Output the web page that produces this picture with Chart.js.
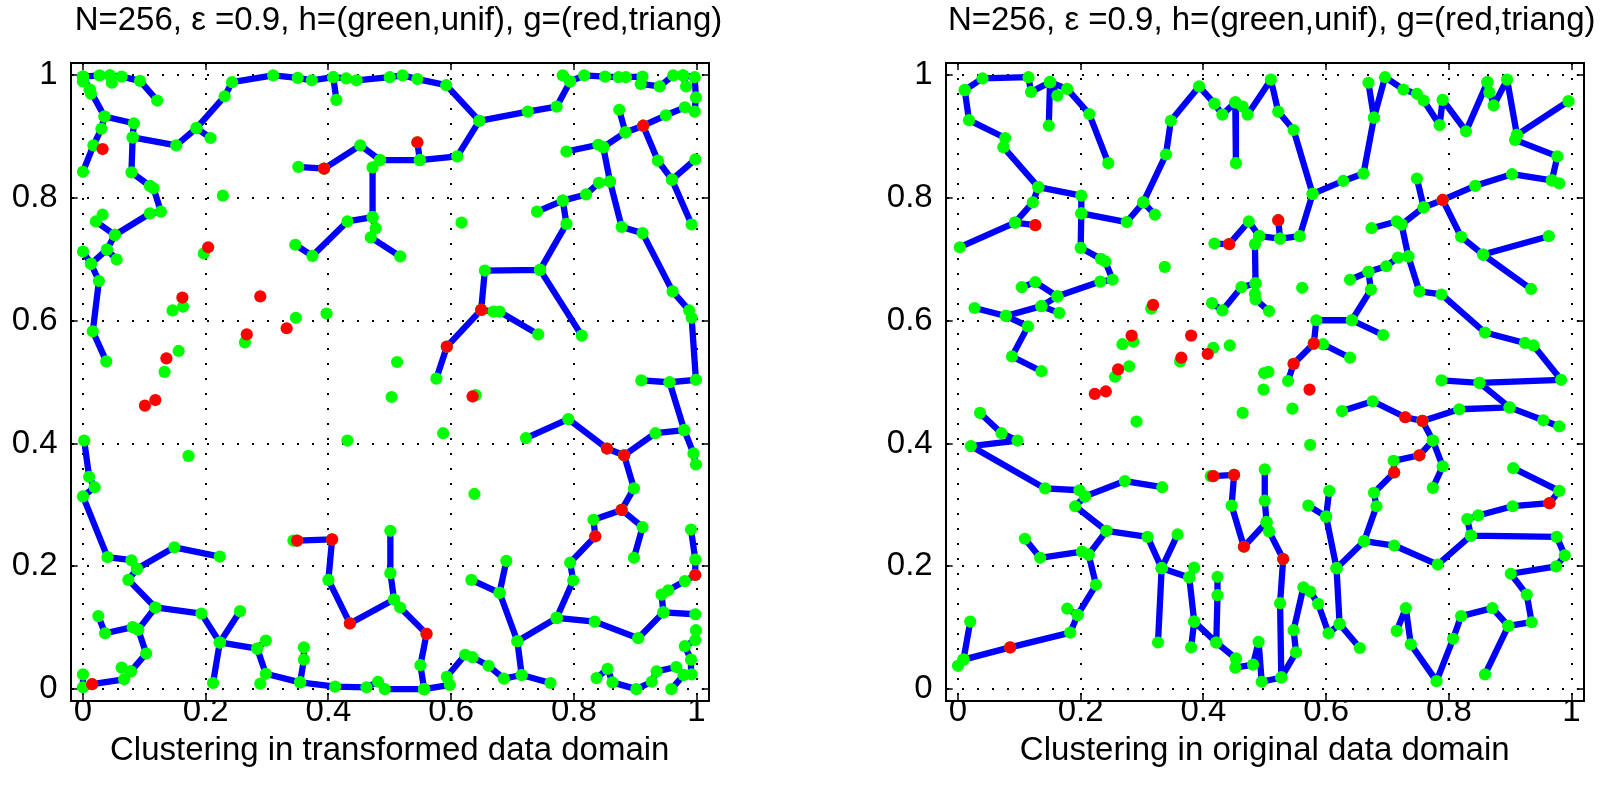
<!DOCTYPE html>
<html>
<head>
<meta charset="utf-8">
<script src="https://cdn.jsdelivr.net/npm/chart.js@4/dist/chart.umd.min.js"></script>
<style>
  html, body { margin: 0; padding: 0; background: #fff; }
  body { width: 1610px; height: 792px; position: relative; overflow: hidden; }
  .panel { position: absolute; top: 0; width: 800px; height: 792px; }
  #left { left: 0; }
  #right { left: 870px; }
</style>
</head>
<body>
<div class="panel" id="left"><canvas id="transChart" width="800" height="792"></canvas></div>
<div class="panel" id="right"><canvas id="origChart" width="800" height="792"></canvas></div>
<script>
const titleText = 'N=256, \u03b5 =0.9, h=(green,unif), g=(red,triang)';
const transLabel = 'Clustering in transformed data domain';
const origLabel = 'Clustering in original data domain';
const tickValues = [0, 0.2, 0.4, 0.6, 0.8, 1];

// spanning-tree edges, transformed domain (each path is a chain of nodes)
const transPaths = [
  [[0.000,0.998],[0.027,1.000],[0.044,1.000],[0.063,0.998],[0.093,0.991],[0.121,0.959]],
  [[0.044,1.000],[0.047,0.988]],
  [[0.000,0.998],[0.000,0.990]],
  [[0.000,0.998],[0.011,0.977],[0.035,0.933],[0.083,0.922],[0.081,0.899],[0.152,0.886],[0.185,0.914],[0.231,0.966],[0.243,0.989],[0.310,1.000],[0.350,0.996],[0.373,0.992],[0.408,0.997],[0.429,0.995],[0.446,0.992],[0.500,0.997],[0.521,1.000],[0.545,0.994],[0.592,0.984],[0.646,0.926],[0.725,0.941],[0.772,0.949],[0.794,0.990],[0.782,1.000]],
  [[0.011,0.977],[0.013,0.970]],
  [[0.185,0.914],[0.208,0.898]],
  [[0.408,0.997],[0.413,0.960]],
  [[0.035,0.933],[0.030,0.913],[0.017,0.886],[0.000,0.843]],
  [[0.081,0.899],[0.079,0.842],[0.109,0.820],[0.115,0.816],[0.127,0.778],[0.109,0.775],[0.052,0.740],[0.039,0.716],[0.013,0.693],[0.026,0.665],[0.016,0.583],[0.038,0.534]],
  [[0.052,0.740],[0.021,0.762],[0.032,0.773]],
  [[0.039,0.716],[0.055,0.700]],
  [[0.013,0.693],[0.000,0.713]],
  [[0.351,0.851],[0.393,0.848],[0.452,0.886],[0.484,0.862],[0.549,0.862],[0.610,0.868],[0.646,0.926]],
  [[0.549,0.862],[0.545,0.891]],
  [[0.484,0.862],[0.472,0.850],[0.472,0.769],[0.431,0.762],[0.374,0.706],[0.346,0.724]],
  [[0.472,0.769],[0.477,0.751],[0.469,0.736],[0.517,0.705]],
  [[0.794,0.990],[0.817,1.000],[0.851,0.998],[0.873,0.997],[0.885,0.997],[0.912,0.998],[0.909,0.986],[0.940,0.982],[0.962,1.000],[0.978,1.000],[0.997,0.997],[0.999,0.964],[0.997,0.941],[0.981,0.948],[0.950,0.935],[0.913,0.918],[0.884,0.907],[0.848,0.883],[0.840,0.887],[0.788,0.876]],
  [[0.978,1.000],[0.983,0.982]],
  [[0.884,0.907],[0.874,0.944]],
  [[0.913,0.918],[0.937,0.861],[0.960,0.830],[0.998,0.863]],
  [[0.960,0.830],[0.992,0.757]],
  [[0.848,0.883],[0.859,0.827],[0.878,0.753],[0.912,0.743],[0.961,0.648],[0.988,0.617],[0.992,0.605],[0.999,0.504],[0.956,0.500],[0.910,0.503]],
  [[0.740,0.778],[0.782,0.796],[0.820,0.806],[0.841,0.825],[0.859,0.827]],
  [[0.782,0.796],[0.788,0.758],[0.745,0.683],[0.655,0.682],[0.649,0.618],[0.593,0.558],[0.576,0.506]],
  [[0.649,0.618],[0.669,0.615],[0.679,0.615],[0.742,0.578]],
  [[0.745,0.683],[0.813,0.576]],
  [[0.002,0.405],[0.010,0.346],[0.019,0.329],[0.000,0.314],[0.040,0.215],[0.079,0.210],[0.088,0.196],[0.149,0.231],[0.223,0.216]],
  [[0.088,0.196],[0.074,0.178],[0.118,0.133],[0.193,0.123],[0.223,0.076],[0.256,0.127]],
  [[0.223,0.076],[0.212,0.010]],
  [[0.223,0.076],[0.284,0.066],[0.298,0.079]],
  [[0.284,0.066],[0.298,0.025],[0.354,0.011],[0.411,0.004],[0.462,0.003],[0.481,0.012],[0.492,0.000],[0.556,0.000]],
  [[0.354,0.011],[0.360,0.048],[0.360,0.068]],
  [[0.118,0.133],[0.090,0.097],[0.081,0.101],[0.036,0.091],[0.025,0.119]],
  [[0.090,0.097],[0.103,0.058],[0.078,0.029],[0.063,0.035]],
  [[0.078,0.029],[0.067,0.016],[0.015,0.008],[0.000,0.003],[0.000,0.024]],
  [[0.343,0.242],[0.349,0.242],[0.406,0.244],[0.400,0.178],[0.435,0.107],[0.507,0.146]],
  [[0.501,0.258],[0.501,0.189],[0.507,0.146],[0.517,0.133],[0.560,0.090],[0.550,0.039],[0.556,0.000]],
  [[0.556,0.000],[0.598,0.007],[0.593,0.020],[0.623,0.056],[0.635,0.052],[0.661,0.038],[0.686,0.017],[0.715,0.023],[0.762,0.010]],
  [[0.715,0.023],[0.708,0.078],[0.772,0.116]],
  [[0.708,0.078],[0.679,0.157],[0.633,0.178]],
  [[0.679,0.157],[0.690,0.209]],
  [[0.772,0.116],[0.799,0.177],[0.794,0.206],[0.835,0.249],[0.832,0.276],[0.878,0.292],[0.898,0.327],[0.882,0.381],[0.854,0.392],[0.791,0.440],[0.722,0.409]],
  [[0.882,0.381],[0.933,0.417],[0.980,0.422],[0.956,0.500]],
  [[0.980,0.422],[0.995,0.384],[0.999,0.366]],
  [[0.878,0.292],[0.912,0.264],[0.898,0.214]],
  [[0.772,0.116],[0.834,0.110],[0.905,0.083],[0.946,0.125],[0.943,0.154],[0.954,0.161],[0.981,0.176],[0.998,0.186],[0.998,0.211],[0.991,0.260]],
  [[0.946,0.125],[0.998,0.122]],
  [[0.837,0.018],[0.855,0.033],[0.863,0.011],[0.902,0.000],[0.927,0.012],[0.935,0.029],[0.967,0.036],[0.979,0.023],[0.992,0.024],[0.991,0.048],[0.981,0.070],[0.998,0.080],[0.999,0.096]],
  [[0.979,0.023],[0.959,0.000]]
];
const transLoose = [
  [0.228,0.804],[0.197,0.710],[0.146,0.617],[0.163,0.623],[0.347,0.605],[0.397,0.612],[0.264,0.565],
  [0.156,0.551],[0.133,0.517],[0.617,0.760],[0.512,0.533],[0.172,0.380],[0.431,0.405],[0.503,0.476],
  [0.289,0.009],[0.587,0.417],[0.638,0.318],[0.640,0.479]
];
const transRed = [
  [0.032,0.880],[0.204,0.720],[0.162,0.638],[0.289,0.640],[0.332,0.588],[0.267,0.578],[0.136,0.539],
  [0.393,0.848],[0.545,0.891],[0.913,0.918],[0.649,0.618],[0.593,0.558],[0.101,0.462],[0.118,0.471],
  [0.015,0.008],[0.349,0.242],[0.406,0.244],[0.435,0.107],[0.560,0.090],[0.835,0.249],[0.878,0.292],
  [0.882,0.381],[0.854,0.392],[0.998,0.186],[0.635,0.477]
];

// spanning-tree edges, original domain
const origPaths = [
  [[0.011,0.976],[0.040,0.995],[0.115,0.997],[0.119,0.973],[0.150,0.989],[0.178,0.978],[0.214,0.937],[0.245,0.857]],
  [[0.150,0.989],[0.148,0.918]],
  [[0.150,0.989],[0.162,0.967]],
  [[0.011,0.976],[0.018,0.927],[0.077,0.898],[0.074,0.883],[0.131,0.818],[0.201,0.804],[0.201,0.775],[0.275,0.761],[0.302,0.793],[0.321,0.773]],
  [[0.302,0.793],[0.339,0.871],[0.347,0.926],[0.393,0.982],[0.418,0.954],[0.431,0.936],[0.452,0.956],[0.464,0.949],[0.472,0.936],[0.510,0.993],[0.522,0.941],[0.547,0.911],[0.578,0.807],[0.628,0.828],[0.661,0.840],[0.678,0.931],[0.696,0.997],[0.726,0.977],[0.748,0.970],[0.759,0.959],[0.785,0.919],[0.790,0.960],[0.828,0.909],[0.863,0.989],[0.873,0.951],[0.895,0.993],[0.911,0.903],[0.995,0.958]],
  [[0.452,0.956],[0.453,0.857]],
  [[0.678,0.931],[0.669,0.988]],
  [[0.863,0.989],[0.866,0.972]],
  [[0.911,0.903],[0.908,0.895],[0.977,0.868],[0.968,0.829],[0.980,0.824]],
  [[0.131,0.818],[0.122,0.793],[0.093,0.760],[0.126,0.756]],
  [[0.093,0.760],[0.003,0.720]],
  [[0.201,0.775],[0.200,0.719],[0.233,0.701],[0.240,0.697],[0.252,0.667],[0.232,0.664],[0.162,0.640],[0.126,0.663],[0.104,0.655]],
  [[0.162,0.640],[0.136,0.624],[0.165,0.613]],
  [[0.136,0.624],[0.078,0.608],[0.027,0.621]],
  [[0.078,0.608],[0.114,0.591],[0.088,0.542],[0.136,0.518]],
  [[0.418,0.726],[0.442,0.725],[0.474,0.762],[0.491,0.738],[0.484,0.725],[0.485,0.661],[0.462,0.655],[0.431,0.617],[0.414,0.629]],
  [[0.491,0.738],[0.525,0.734],[0.557,0.738],[0.578,0.807]],
  [[0.525,0.734],[0.522,0.764]],
  [[0.485,0.661],[0.484,0.644],[0.485,0.635],[0.507,0.616]],
  [[0.748,0.832],[0.759,0.785]],
  [[0.674,0.751],[0.715,0.762],[0.723,0.757],[0.759,0.785],[0.790,0.797],[0.843,0.820],[0.903,0.839],[0.968,0.829]],
  [[0.790,0.797],[0.820,0.737],[0.856,0.708],[0.963,0.738]],
  [[0.856,0.708],[0.934,0.652]],
  [[0.723,0.757],[0.734,0.705],[0.717,0.703],[0.698,0.689],[0.669,0.680],[0.639,0.667]],
  [[0.669,0.680],[0.673,0.651],[0.642,0.601],[0.584,0.601],[0.580,0.563],[0.547,0.530],[0.538,0.502]],
  [[0.642,0.601],[0.693,0.577]],
  [[0.580,0.563],[0.595,0.562],[0.639,0.540]],
  [[0.734,0.705],[0.752,0.648],[0.788,0.643],[0.859,0.581],[0.924,0.564],[0.938,0.560],[0.983,0.504],[0.850,0.499],[0.788,0.503]],
  [[0.036,0.450],[0.071,0.417],[0.097,0.405],[0.021,0.396],[0.142,0.327],[0.198,0.324],[0.207,0.314],[0.272,0.339],[0.333,0.329]],
  [[0.207,0.314],[0.191,0.298],[0.242,0.258],[0.309,0.248],[0.332,0.197],[0.358,0.252]],
  [[0.332,0.197],[0.326,0.076]],
  [[0.332,0.197],[0.377,0.182],[0.385,0.198]],
  [[0.377,0.182],[0.385,0.110],[0.380,0.068]],
  [[0.385,0.110],[0.421,0.076],[0.423,0.153],[0.423,0.183]],
  [[0.421,0.076],[0.453,0.050],[0.452,0.035],[0.481,0.040],[0.490,0.077],[0.495,0.012],[0.527,0.019]],
  [[0.242,0.258],[0.213,0.219],[0.202,0.224],[0.134,0.214],[0.109,0.245]],
  [[0.213,0.219],[0.225,0.170],[0.195,0.121],[0.178,0.131]],
  [[0.195,0.121],[0.183,0.092],[0.085,0.068],[0.009,0.048],[0.000,0.038]],
  [[0.009,0.048],[0.020,0.110]],
  [[0.412,0.347],[0.416,0.347],[0.450,0.349],[0.446,0.299],[0.466,0.232],[0.503,0.272]],
  [[0.500,0.358],[0.500,0.307],[0.503,0.272],[0.507,0.257],[0.530,0.212],[0.525,0.140],[0.527,0.019],[0.551,0.060],[0.547,0.096],[0.563,0.166],[0.574,0.159],[0.587,0.139],[0.604,0.091],[0.622,0.106],[0.617,0.197]],
  [[0.622,0.106],[0.655,0.067]],
  [[0.617,0.197],[0.662,0.241],[0.682,0.298],[0.678,0.320],[0.711,0.353],[0.710,0.372],[0.752,0.381],[0.774,0.405],[0.757,0.437],[0.729,0.443],[0.676,0.469],[0.626,0.453]],
  [[0.774,0.405],[0.790,0.363],[0.774,0.328]],
  [[0.757,0.437],[0.817,0.456],[0.899,0.459],[0.850,0.499]],
  [[0.899,0.459],[0.954,0.438],[0.980,0.428]],
  [[0.662,0.241],[0.711,0.234],[0.782,0.203],[0.836,0.250],[0.830,0.277],[0.848,0.283],[0.904,0.298],[0.964,0.303],[0.980,0.323],[0.905,0.360]],
  [[0.836,0.250],[0.976,0.248],[0.989,0.218],[0.975,0.200],[0.901,0.188],[0.927,0.154],[0.935,0.109],[0.897,0.103],[0.871,0.132],[0.820,0.119],[0.807,0.082],[0.780,0.013],[0.738,0.073],[0.730,0.132],[0.715,0.095]],
  [[0.897,0.103],[0.859,0.024]],
  [[0.617,0.197],[0.600,0.281],[0.605,0.323]],
  [[0.600,0.281],[0.571,0.299]]
];
const origLoose = [
  [0.337,0.688],[0.315,0.620],[0.268,0.562],[0.286,0.566],[0.362,0.534],[0.416,0.556],[0.443,0.560],
  [0.279,0.526],[0.256,0.509],[0.499,0.515],[0.561,0.654],[0.506,0.517],[0.291,0.436],[0.464,0.450],
  [0.498,0.488],[0.545,0.457],[0.574,0.398]
];
const origRed = [
  [0.126,0.756],[0.318,0.626],[0.283,0.576],[0.380,0.576],[0.364,0.540],[0.407,0.546],[0.261,0.521],
  [0.442,0.725],[0.522,0.764],[0.790,0.797],[0.580,0.563],[0.547,0.530],[0.223,0.481],[0.241,0.485],
  [0.085,0.068],[0.416,0.347],[0.450,0.349],[0.466,0.232],[0.530,0.212],[0.711,0.353],[0.752,0.381],
  [0.757,0.437],[0.729,0.443],[0.964,0.303],[0.573,0.488]
];

const fontFamily = '"Liberation Sans", Arial, Helvetica, sans-serif';
const textFont = { family: fontFamily, size: 33, weight: 'normal', lineHeight: 1.2 };
const gridDash = [2, 13];

function toXY(p) {
  return { x: p[0], y: p[1] };
}

// all paths in one dataset, broken apart by null points
function edgeData(paths) {
  const out = [];
  paths.forEach(path => {
    path.forEach(p => out.push(toXY(p)));
    out.push({ x: null, y: null });
  });
  return out;
}

function nodeData(paths, loose) {
  return paths.flat().concat(loose).map(toXY);
}

function fixedTicks(scale) {
  scale.ticks = tickValues.map(v => ({ value: v }));
}

function axis(position, opts) {
  const side = position === 'top' || position === 'bottom';
  return {
    type: 'linear',
    position: position,
    min: -0.02,
    max: 1.02,
    bounds: 'data',
    afterBuildTicks: fixedTicks,
    afterFit: scale => {
      if (side) scale.height = opts.size; else scale.width = opts.size;
    },
    grid: {
      display: true,
      drawOnChartArea: opts.main,
      drawTicks: true,
      tickLength: -7,
      tickColor: '#000',
      tickWidth: 1.5,
      color: '#000',
      lineWidth: 2,
      borderDash: gridDash
    },
    border: { display: true, color: '#000', width: 2, dash: gridDash },
    ticks: {
      display: opts.main,
      color: '#000',
      font: textFont,
      padding: opts.pad || 0,
      maxRotation: 0,
      autoSkip: false,
      callback: v => String(v)
    },
    title: opts.title ? {
      display: true,
      text: opts.title,
      color: '#000',
      font: textFont,
      padding: { top: 0, bottom: 21 }
    } : { display: false }
  };
}

function makeChart(canvasId, paths, loose, red, xLabel, layout) {
  return new Chart(document.getElementById(canvasId), {
    type: 'scatter',
    data: {
      datasets: [
        {
          label: 'g',
          data: red.map(toXY),
          pointRadius: 6.1,
          pointBackgroundColor: '#ff0000',
          pointBorderWidth: 0,
          order: 0
        },
        {
          label: 'h',
          data: nodeData(paths, loose),
          pointRadius: 6.1,
          pointBackgroundColor: '#00ff00',
          pointBorderWidth: 0,
          order: 1
        },
        {
          label: 'edges',
          data: edgeData(paths),
          showLine: true,
          spanGaps: false,
          borderColor: '#0000ff',
          borderWidth: 6.3,
          borderJoinStyle: 'round',
          borderCapStyle: 'round',
          pointRadius: 0,
          order: 2
        }
      ]
    },
    options: {
      responsive: false,
      devicePixelRatio: 1,
      animation: false,
      events: [],
      layout: { padding: { left: layout.padL, right: layout.padR, top: 0, bottom: 0 } },
      plugins: {
        legend: { display: false },
        tooltip: { enabled: false },
        title: {
          display: true,
          text: titleText,
          color: '#000',
          font: textFont,
          padding: { top: 1, bottom: 22.5 }
        }
      },
      scales: {
        x: axis('bottom', { main: true, size: 90.6, pad: -2, title: xLabel }),
        y: axis('left', { main: true, size: layout.yW, pad: 20 }),
        x2: axis('top', { main: false, size: 0 }),
        y2: axis('right', { main: false, size: layout.y2W })
      }
    }
  });
}

makeChart('transChart', transPaths, transLoose, transRed, transLabel,
  { padL: 8.7, padR: 11.8, yW: 62, y2W: 79.4 });
makeChart('origChart', origPaths, origLoose, origRed, origLabel,
  { padL: 13.7, padR: 10.3, yW: 62, y2W: 75.9 });
</script>
</body>
</html>
